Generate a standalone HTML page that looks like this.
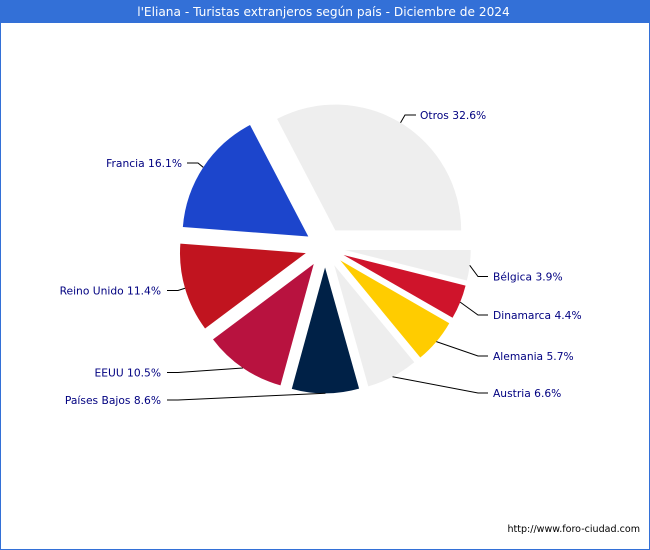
<!DOCTYPE html>
<html lang="es">
<head>
<meta charset="utf-8">
<title>l'Eliana - Turistas extranjeros según país</title>
<style>
html,body{margin:0;padding:0;background:#fff;}
#chart{display:block;width:650px;height:550px;font-family:"DejaVu Sans","Liberation Sans",sans-serif;}
</style>
</head>
<body>
<svg id="chart" xmlns="http://www.w3.org/2000/svg" width="650" height="550" viewBox="0 0 650 550">
  <rect x="0.5" y="0.5" width="649" height="549" fill="#ffffff" stroke="#3370d7" stroke-width="1"></rect>
  <rect x="0" y="0" width="650" height="23" fill="#3370d7"></rect>
  <text x="323.5" y="16" text-anchor="middle" fill="#ffffff" font-size="12.17">l'Eliana - Turistas extranjeros según país - Diciembre de 2024</text>
  <g id="slices"></g>
  <g id="leaders"></g>
  <g id="labels"></g>
  <text x="640" y="532" text-anchor="end" fill="#000000" font-size="9.55">http://www.foro-ciudad.com</text>
</svg>
<script>
const categories = ['Otros', 'Francia', 'Reino Unido', 'EEUU', 'Países Bajos', 'Austria', 'Alemania', 'Dinamarca', 'Bélgica'];
const shares = [32.6, 16.1, 11.4, 10.5, 8.6, 6.6, 5.7, 4.4, 3.9];
const sliceColors = ['#eeeeee', '#1c45cc', '#c1141f', '#b8123f', '#002147', '#eeeeee', '#ffcc00', '#cf142b', '#eeeeee'];

const CX = 325;
const CY = 247.5;
const RADIUS = 125.8;
const EXPLODE = 20;
const SVG_NS = 'http://www.w3.org/2000/svg';
const labelPlacement = [
  { side: 'right', textX: 420, y: 115, kneeX: 405, endX: 416 },
  { side: 'left', textX: 182, y: 163, kneeX: 198, endX: 187 },
  { side: 'left', textX: 161, y: 290.5, kneeX: 178, endX: 167 },
  { side: 'left', textX: 161, y: 372.5, kneeX: 178, endX: 167 },
  { side: 'left', textX: 161, y: 400, kneeX: 178, endX: 167 },
  { side: 'right', textX: 493, y: 393, kneeX: 478, endX: 488 },
  { side: 'right', textX: 493, y: 356, kneeX: 478, endX: 488 },
  { side: 'right', textX: 493, y: 315, kneeX: 478, endX: 488 },
  { side: 'right', textX: 493, y: 276.5, kneeX: 478, endX: 488 }
];

const total = shares.reduce(function (a, b) { return a + b; }, 0);
function angleOf(value) { return value / total * 2 * Math.PI; }
function polar(x, y, r, a) { return [x + r * Math.cos(a), y - r * Math.sin(a)]; }
function fmt(p) { return p[0].toFixed(2) + ' ' + p[1].toFixed(2); }

const sliceLayer = document.getElementById('slices');
const leaderLayer = document.getElementById('leaders');
const labelLayer = document.getElementById('labels');
let running = 0;

shares.forEach(function (value, i) {
  const start = angleOf(running);
  const end = angleOf(running + value);
  const mid = (start + end) / 2;
  running += value;

  const apex = polar(CX, CY, EXPLODE, mid);
  const p0 = polar(apex[0], apex[1], RADIUS, start);
  const p1 = polar(apex[0], apex[1], RADIUS, end);
  const large = end - start > Math.PI ? 1 : 0;

  const slice = document.createElementNS(SVG_NS, 'path');
  slice.setAttribute('d', 'M' + fmt(apex) + ' L' + fmt(p0) + ' A' + RADIUS + ' ' + RADIUS + ' 0 ' + large + ' 0 ' + fmt(p1) + ' Z');
  slice.setAttribute('fill', sliceColors[i]);
  
  
  sliceLayer.appendChild(slice);

  const place = labelPlacement[i];
  const edge = polar(apex[0], apex[1], RADIUS, mid);
  const leader = document.createElementNS(SVG_NS, 'polyline');
  leader.setAttribute('points', fmt(edge) + ' ' + place.kneeX + ' ' + place.y + ' ' + place.endX + ' ' + place.y);
  leader.setAttribute('fill', 'none');
  leader.setAttribute('stroke', '#000000');
  leader.setAttribute('stroke-width', '1');
  
  
  leaderLayer.appendChild(leader);

  const label = document.createElementNS(SVG_NS, 'text');
  label.setAttribute('x', place.textX);
  label.setAttribute('y', place.y + 4);
  label.setAttribute('text-anchor', place.side === 'left' ? 'end' : 'start');
  label.setAttribute('fill', '#000080');
  label.setAttribute('font-size', '10.7');
  label.textContent = categories[i] + ' ' + value.toFixed(1) + '%';
  
  
  labelLayer.appendChild(label);
});
</script>
</body>
</html>
